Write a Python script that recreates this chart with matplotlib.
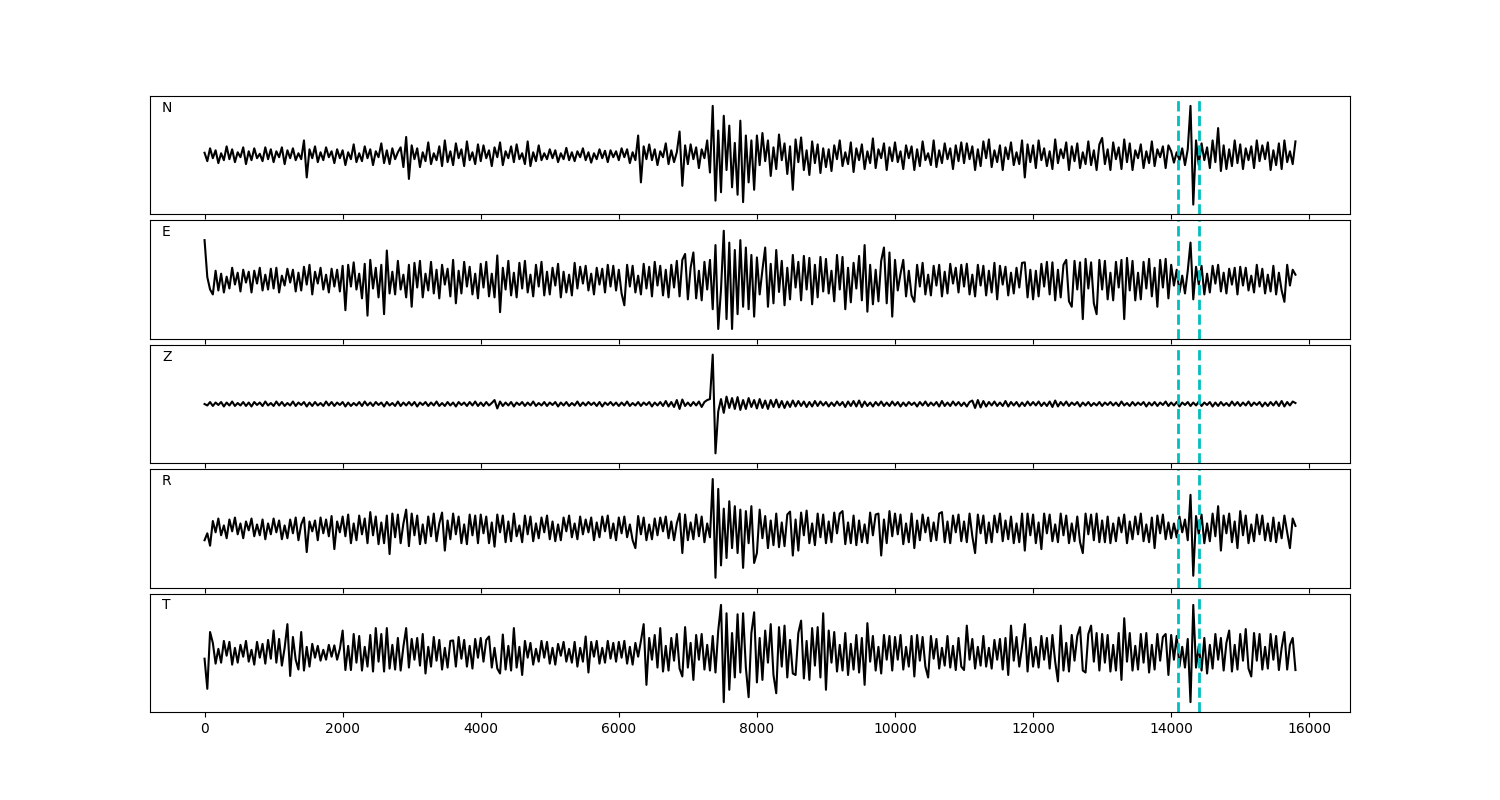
import matplotlib
matplotlib.use("Agg")
import matplotlib.pyplot as plt
import numpy as np

# sample spacing of the traces (x units), amplitudes normalised to +-100
DT = 40
PICKS = [14100, 14400]
COMPONENTS = ["N", "E", "Z", "R", "T"]

# one row per 1000 x-units (25 samples), last row 15000..15800
trace_n = [
    5, -12, 14, -6, 10, -16, 4, -10, 18, -8, 12, -14, 6, -4, 16, -18, 8, -10, 14, -6, 3, -12, 16, -8, 12,
    -14, 8, -4, 16, -18, 10, -6, 14, -10, 4, -8, 30, -45, 12, -6, 18, -14, 6, -10, 16, -4, 8, -16, 12, -6,
    10, -20, 6, -8, 22, -14, 4, -12, 18, -6, 12, -20, 8, -4, 24, -16, 10, -18, 14, -8, 6, 16, -24, 37, -48,
    20, -8, 14, -24, 6, -12, 26, -18, 4, -10, 18, -22, 30, -14, 8, -20, 24, -6, 12, -22, 28, -10, 6, -18, 22,
    -12, 20, -6, 10, -22, 16, -4, 26, -20, 8, -6, 18, -14, 22, -8, 4, -18, 28, -22, 6, -12, 20, -10, 4, -8,
    12, -6, 10, -14, 4, -8, 15, -10, 6, -12, 8, -4, 14, -10, 6, -15, 4, -8, 12, -6, 9, -14, 10, -4, 8,
    -10, 14, -4, 12, -16, 6, -10, 40, -55, 18, -8, 22, -10, 12, -20, 8, -4, 24, -18, 10, -14, 6, 48, -62, 20,
    -18, 22, -8, 16, -26, 12, -6, 30, -35, 100, -92, 50, -75, 80, -30, 60, -65, 25, -80, 70, -95, 40, -55, 30, -70,
    40, -20, 45, -12, 30, -42, 16, -28, 42, -10, 24, -38, 18, -70, 32, -14, 36, -30, 10, -40, 28, -16, 22, -36, 14,
    -24, 12, -32, 20, -8, 30, -22, 6, -18, 26, -34, 14, -10, 22, -28, 8, -16, 34, -26, 12, -6, 24, -30, 16, -12,
    26, -14, 8, -28, 20, -6, 18, -30, 12, -22, 28, -10, 4, -20, 30, -24, 10, -16, 24, -8, 14, -28, 20, -12, 26,
    -16, 24, -8, 18, -30, 12, -22, 28, -6, 32, -24, 10, -14, 20, -30, 16, -8, 26, -20, 6, -18, 30, -45, 22, -14,
    20, -26, 30, -10, 14, -22, 8, -28, 32, -16, 12, -6, 26, -30, 18, -12, 24, -26, 6, -18, 28, -20, 10, -30, 22,
    35, -18, 12, -30, 26, -8, 16, -28, 32, -14, 24, -30, 10, -6, 22, -26, 8, -16, 28, -22, 12, -4, 18, -26, 20,
    8, -15, 6, -10, 14, -20, 12, 100, -100, 30, -20, 24, -10, 16, -26, 30, -14, 55, -32, 20, -28, 12, -22, 30, -16,
    22, -28, 14, -10, 18, -26, 30, -12, 20, -8, 26, -30, 10, -20, 24, -28, 30, -14, 8, -18, 28,
]
trace_e = [
    80, 5, -20, -30, 18, -22, 12, -26, 6, -18, 24, -10, 14, -24, 20, -6, 16, -26, 18, -8, 24, -22, 10, -20, 22,
    -18, 24, -26, 8, -12, 22, -6, 20, -24, 14, -22, 26, -10, 30, -30, 16, -8, 24, -20, 10, -26, 22, -14, 20, -24,
    28, -62, 30, -14, 35, -20, 12, -38, 32, -73, 40, -18, 24, -36, 30, -70, 59, -28, 16, -30, 38, -20, 10, -36, 30,
    -55, 34, -16, 38, -36, 12, -22, 36, -28, 20, -38, 30, -10, 22, -34, 40, -48, 18, -28, 36, -14, 26, -30, 12, -38,
    32, -16, 36, -34, 12, -36, 49, -66, 24, -20, 38, -32, 14, -36, 34, -18, 38, -26, 10, -34, 30, -14, 36, -32, 16,
    -30, 24, -12, 32, -36, 16, -26, 10, -32, 34, -18, 26, -8, 28, -22, 12, -30, 24, -10, 22, -26, 30, -14, 28, -22,
    20, -28, -52, 30, -14, 28, -26, 8, -30, 32, -18, 26, -34, 36, -12, 28, -32, 20, -36, 30, -16, 38, -34, 40, 52,
    -40, 24, 55, -38, 18, -42, 36, -20, 40, -60, 70, -100, -20, 99, -80, 75, -100, 60, -70, 80, -55, 65, -60, 50, -75,
    45, -30, 20, 65, -55, 32, -48, 60, -25, 38, -52, 24, -40, 50, -16, 36, -42, 48, -20, 44, -50, 30, -36, 46, -24,
    42, -28, 18, -44, 50, -20, 46, -60, 24, -46, 34, -18, 48, -42, 70, -65, 30, -50, 20, -44, 38, 65, -48, 55, -75,
    40, -22, 12, 40, -34, 18, -32, -45, 30, -14, 34, -30, 10, -32, 28, -12, 30, -34, 16, -28, 32, -8, 24, -26, 30,
    -14, 32, -30, 10, -34, 30, -12, 28, -32, 18, -26, 34, -40, 28, -10, 26, -32, 14, -28, 24, -16, 34, 35, -36, 20,
    -40, 18, -34, 32, -14, 36, -30, 35, -42, 20, -36, 30, 40, -44, -55, 38, -20, 35, -80, 42, -18, 35, -48, -70, 40,
    -20, 38, -40, 14, -42, 36, -16, 40, -80, 44, -22, 38, -42, 14, -40, 36, -18, 42, -34, 24, -55, 40, -16, 42, -38,
    30, -12, 20, -26, 8, -28, 18, 75, -40, 26, -10, 28, -30, 12, -26, 28, -8, 30, -24, 14, -28, 22, -10, 24, -30,
    26, -12, 24, -22, 8, -26, 30, -14, 22, -28, 10, -24, 28, -30, 14, -22, -45, 30, -12, 20, 10,
]
trace_z = [
    0, -3, 4, -4, 3, -2, 4, -5, 3, -3, 5, -4, 2, -3, 4, -4, 3, -5, 4, -2, 3, -4, 5, -3, 2,
    -4, 5, -3, 4, -4, 2, -3, 5, -4, 3, -2, 4, -5, 3, -4, 4, -3, 2, -4, 5, -3, 4, -4, 3, -2,
    4, -5, 3, -4, 2, -3, 4, -4, 5, -3, 3, -4, 4, -2, 3, -5, 4, -3, 2, -4, 5, -4, 3, -3, 4,
    -3, 4, -5, 3, -2, 4, -4, 3, -3, 5, -4, 2, -4, 4, -3, 3, -5, 4, -2, 3, -4, 4, -3, 5, -4,
    3, -4, 4, -3, 2, 8, -9, 5, -4, 3, -3, 4, -5, 3, -2, 4, -4, 3, -3, 5, -4, 2, -3, 4, -4,
    3, -2, 4, -5, 3, -3, 4, -4, 2, -3, 5, -4, 3, -3, 4, -2, 3, -4, 4, -5, 3, -2, 4, -3, 3,
    -4, 3, -3, 5, -4, 2, -3, 4, -4, 3, -2, 4, -5, 3, -3, 4, -4, 6, -5, 4, -6, 8, -10, 9, -4,
    3, -4, 4, -3, 5, -6, 4, 8, 10, 100, -100, -15, 10, -18, 15, -8, 12, -10, 14, -12, 8, -10, 12, -6, 8,
    -9, 10, -8, 7, -10, 8, -6, 9, -7, 6, -8, 5, -6, 7, -5, 6, -4, 5, -6, 4, -5, 6, -4, 5, -3,
    4, -5, 3, -4, 5, -3, 4, -6, 5, -4, 6, -5, 7, -6, 5, -4, 3, -5, 4, -3, 5, -4, 3, -4, 5,
    -3, 4, -5, 3, -4, 4, -2, 3, -5, 4, -3, 5, -4, 3, -3, 4, -5, 6, -4, 3, -4, 5, -3, 4, -4,
    3, -5, 4, 7, -8, 8, -7, 6, -5, 4, -3, 5, -4, 3, -4, 6, -5, 4, -3, 4, -5, 3, -4, 5, -3,
    4, -3, 5, -4, 3, -4, 5, -6, 7, -5, 4, -3, 5, -4, 3, -2, 4, -5, 3, -3, 4, -4, 2, -3, 4,
    -4, 3, -2, 4, -3, 3, -4, 5, -3, 2, -4, 4, -3, 3, -2, 4, -5, 3, -3, 4, -4, 3, -2, 5, -4,
    3, -3, 4, -5, 3, -2, 4, -4, 3, -3, 5, -4, 3, -2, 4, -5, 3, -4, 4, -3, 2, -4, 5, -3, 4,
    -4, 3, -3, 5, -4, 3, -2, 4, -5, 3, -4, 4, -3, 5, -4, 6, -5, 4, -3, 5, 2,
]
trace_r = [
    -24, -10, -35, 15, -8, 20, -14, 6, -20, 18, -6, 22, -12, 10, -20, 14, -4, 20, -16, 8, -14, 18, -22, 10, -12,
    20, -8, 16, -22, 6, -20, 18, -10, 22, -24, 8, 22, -48, 14, -6, 16, -24, 22, -10, 18, -16, 25, -42, 14, -8,
    24, -16, 28, -30, 10, -24, 26, -12, 20, -30, 33, -14, 24, -32, 12, -30, 26, -52, 30, -18, 28, -30, 10, 38, -36,
    30, -14, 26, -32, 8, -30, 24, -16, 30, -26, 10, 32, -45, 16, -22, 30, -12, 24, -30, 8, -32, 28, -14, 26, -30,
    28, -10, 24, -30, 12, -37, 28, -8, 26, -28, 14, -26, 30, -16, 6, -28, 26, -12, 24, -26, 10, -20, 22, -8, 26,
    -22, 14, -26, 8, -24, 22, -6, 26, -18, 10, -22, 24, -12, 18, -8, 22, -24, 12, -18, 24, -6, 26, -20, 10, -24,
    22, -10, 24, -18, 8, -24, -40, 25, -12, 22, -24, 8, -22, 20, -14, 22, -6, 24, -20, 14, -24, 10, 30, -50, 28,
    -24, 12, -22, 28, -16, 24, -28, 10, -18, 100, -100, 80, -75, 40, -60, 55, -40, 45, -50, 38, -80, 35, -30, 45, -70,
    -50, 38, -20, 25, -40, 16, -34, 30, -38, 12, -36, 28, 34, -55, 18, -45, 32, -14, 36, -30, 10, -34, 30, -18, 28,
    -30, 14, -28, 32, -10, 30, 35, -32, 12, -30, 26, -34, 16, -28, 8, -30, 32, -14, 28, 30, -55, 18, -30, 35, -16,
    30, -12, 28, -32, 10, -28, 30, -40, 16, -24, 28, -8, 22, -26, 12, -24, 30, 33, -28, 14, -30, 26, -8, 28, -26,
    14, -28, 30, -16, -50, 28, -10, 26, -30, 12, -28, 26, -8, 30, -26, 16, -22, 24, -30, 10, -28, 30, -45, 30, -14,
    28, -30, 12, -42, 30, -10, 28, -26, 8, -28, 30, -14, 26, -30, 10, -26, 24, -28, -50, 30, -12, 28, -24, 30, -28,
    16, -28, 24, -30, 10, -26, 22, -8, 28, -30, 14, -22, 24, -12, 30, -26, 8, -28, 22, -40, 26, -10, 28, -22, 12,
    -20, 10, -18, 24, -8, 18, -24, 68, -96, 25, -12, 28, -30, 10, -26, 30, -16, 45, -45, 26, -10, 30, -28, 14, -40,
    35, -14, 26, -30, 8, -26, 28, -12, 26, -24, 10, -26, 22, -28, 12, -20, 26, -8, -40, 20, 5,
]
trace_t = [
    -12, -73, 42, 20, -22, 8, -20, 24, -6, 22, -24, 10, -20, 16, -8, 24, -18, 6, -24, 22, -10, 18, -22, 26, -12,
    45, -20, 28, -26, 10, 58, -47, 32, -14, -34, 42, -36, 12, -28, 18, -10, 14, -16, 6, -14, 16, -8, 15, -14, 8,
    45, -35, 14, -35, 38, -20, 34, -36, 12, -28, 36, -38, 50, -18, 38, -38, 50, -32, 16, -34, 30, -36, 12, 50, -30,
    28, -14, 30, -26, 38, -42, 12, -28, 32, -16, 26, -34, 10, -30, 24, 25, -28, 32, -12, 26, -28, 14, -32, 28, -10,
    30, -18, 26, 33, -30, 10, -32, -42, 37, -34, 14, -36, 50, -30, 12, -45, 24, -10, 20, -24, 8, -18, 24, -10, 22,
    -22, 10, -24, 18, -6, 22, -18, 8, -20, 22, -28, 10, -18, 33, -40, 22, -8, 24, -22, 10, -20, 24, -12, 20, -18,
    22, -10, 24, -22, 12, -24, 20, -8, 24, 58, -65, 30, -14, 36, -30, 50, -38, 14, -36, 30, -16, 38, -32, -48, 52,
    -30, 20, -55, 36, -14, 38, -34, 16, -36, 34, -40, 45, 97, -100, 80, -75, 40, -50, 78, -40, 80, -30, -90, 40, 82,
    -60, 30, -55, 45, -20, 58, -45, -82, 52, -28, 55, -50, 26, -42, -45, 40, 65, -52, 24, -55, 50, -26, 52, -50, 80,
    -75, 45, -20, 42, -38, 16, -36, 40, -45, 18, -34, 36, -40, 30, -65, 60, -18, 34, -36, 12, -42, 36, -14, 34, -36,
    32, -14, 36, -34, 12, -28, 34, -48, 36, -16, 32, -28, -50, 34, -12, 28, -32, 10, -26, 34, -30, 14, -35, 30, -28,
    -35, 55, -14, 28, -32, 12, -26, 34, -28, 10, -32, 26, -14, 28, -34, 30, -45, 55, -16, 32, -28, 12, 58, -38, 30,
    -28, 12, -30, 34, -14, 30, -32, 36, -18, -58, 55, -36, 20, -38, 36, -16, 34, 52, -36, -40, 38, 55, -18, 40, -36,
    38, -20, 36, -38, 16, -36, 40, -55, 70, -18, 40, -36, 14, -34, 38, -20, 40, -40, 16, -34, 38, -16, 32, 38, -45,
    36, -14, 34, -28, 12, -30, 28, -100, 97, -30, 14, -36, 30, -42, 16, -32, 38, -14, 30, -36, 20, 45, -38, 16, -34,
    38, -16, 48, -32, -48, 40, -16, 38, -34, 12, -32, 38, -14, 34, -35, 10, 42, -34, 16, 30, -35,
]

traces = [trace_n, trace_e, trace_z, trace_r, trace_t]

fig, axes = plt.subplots(5, 1, figsize=(15, 8), sharex=True, gridspec_kw={"hspace": 0.05})
fig.subplots_adjust(left=0.1, right=0.9, top=0.88, bottom=0.11)
for ax, comp, tr in zip(axes, COMPONENTS, traces):
    t = np.arange(len(tr)) * DT
    ax.plot(t, tr, color="k", lw=1.5)
    for p in PICKS:
        ax.axvline(p, color="c", lw=2, ls="--")
    ax.set_ylim(-120, 120)
    ax.set_yticks([])
    ax.text(0.01, 0.9, comp, transform=ax.transAxes, va="center", fontsize=10)
fig.savefig("out.png", dpi=100)
